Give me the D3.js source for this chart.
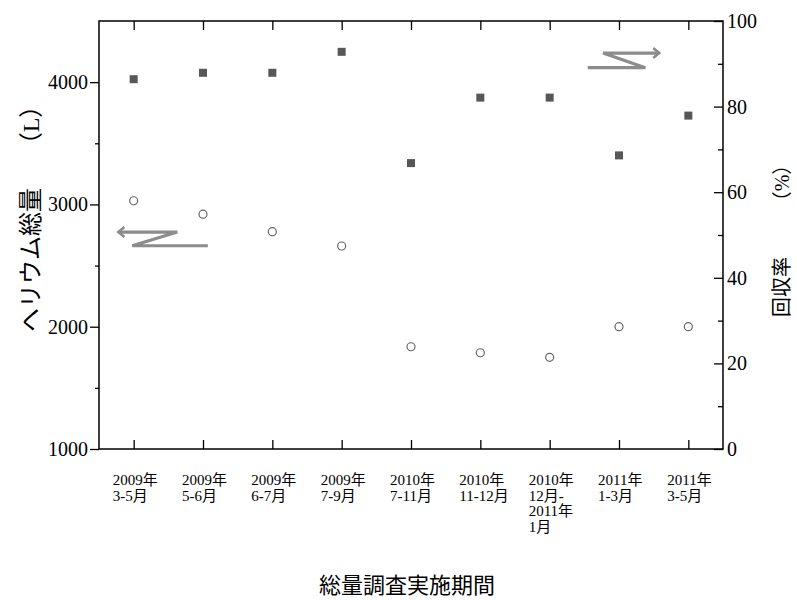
<!DOCTYPE html>
<html>
<head>
<meta charset="utf-8">
<script src="https://cdn.jsdelivr.net/npm/d3@7"></script>
<style>
  body { margin: 0; background: #fff; }
  svg text { font-family: "Liberation Serif", "Noto Sans CJK JP", serif; fill: #000; }
</style>
</head>
<body>
<svg id="chart" width="797" height="600"></svg>
<script>
// survey periods (multi-line tick labels)
var periods = [
    ['2009年', '3-5月'],
    ['2009年', '5-6月'],
    ['2009年', '6-7月'],
    ['2009年', '7-9月'],
    ['2010年', '7-11月'],
    ['2010年', '11-12月'],
    ['2010年', '12月-', '2011年', '1月'],
    ['2011年', '1-3月'],
    ['2011年', '3-5月']
];
// total helium (L), left axis, circles
var heliumTotal = [3030, 2920, 2777, 2660, 1836, 1787, 1750, 2000, 2000];
// recovery rate (%), right axis, squares
var recoveryRate = [86.4, 87.9, 87.9, 92.8, 66.8, 82.1, 82.1, 68.6, 77.9];

var leftTicks = [1000, 2000, 3000, 4000];
var rightTicks = [0, 20, 40, 60, 80, 100];

var margin = {top: 21, right: 74, bottom: 151, left: 99};
var svg = d3.select('#chart');
var W = +svg.attr('width') - margin.left - margin.right;
var H = +svg.attr('height') - margin.top - margin.bottom;
var g = svg.append('g').attr('transform', 'translate(' + margin.left + ',' + margin.top + ')');

var x = d3.scalePoint().domain(d3.range(periods.length)).range([0, W]).padding(0.5);
// fractional index -> px, used for the annotation arrows
var xi = d3.scaleLinear().domain([0, periods.length - 1]).range([x(0), x(periods.length - 1)]);
var yL = d3.scaleLinear().domain([1000, 4500]).range([H, 0]);
var yR = d3.scaleLinear().domain([0, 100]).range([H, 0]);

// left axis: outward ticks, minor every 500
g.append('g').call(d3.axisLeft(yL).tickValues(d3.range(1500, 4500, 1000)).tickSize(4).tickFormat(''));
g.append('g').call(d3.axisLeft(yL).tickValues(leftTicks).tickSize(9).tickPadding(2).tickFormat(d3.format('d')));
// right axis: inward ticks, minor every 10
g.append('g').attr('transform', 'translate(' + W + ',0)')
    .call(d3.axisRight(yR).tickValues(d3.range(10, 100, 20)).tickSize(-5).tickFormat(''));
g.append('g').attr('transform', 'translate(' + W + ',0)')
    .call(d3.axisRight(yR).tickValues(rightTicks).tickSize(-9).tickPadding(4).tickFormat(d3.format('d')));
// bottom and top: inward ticks at each period
g.append('g').attr('transform', 'translate(0,' + H + ')')
    .call(d3.axisBottom(x).tickSize(-9).tickFormat(''));
g.append('g').call(d3.axisTop(x).tickSize(-9).tickFormat(''));

g.selectAll('.domain').remove();
g.selectAll('.tick line').attr('stroke', '#000').attr('stroke-width', 1.3);
g.selectAll('.tick text').attr('font-size', 20).attr('font-family', '"Liberation Serif", serif');

g.append('rect').attr('width', W).attr('height', H)
    .attr('fill', 'none').attr('stroke', '#000').attr('stroke-width', 1.5);

// multi-line period labels
var lab = g.selectAll('text.period').data(periods).enter().append('text')
    .attr('class', 'period')
    .attr('font-size', 15)
    .attr('transform', function (d, i) { return 'translate(' + (x(i) - 21) + ',' + (H + 36) + ')'; });
lab.selectAll('tspan').data(function (d) { return d; }).enter().append('tspan')
    .attr('x', 0)
    .attr('y', function (d, i) { return i * 15.5; })
    .text(function (d) { return d; });

// data marks
g.selectAll('rect.rate').data(recoveryRate).enter().append('rect')
    .attr('class', 'rate')
    .attr('x', function (d, i) { return x(i) - 4; })
    .attr('y', function (d) { return yR(d) - 4; })
    .attr('width', 8).attr('height', 8)
    .attr('fill', '#575757');

g.selectAll('circle.helium').data(heliumTotal).enter().append('circle')
    .attr('class', 'helium')
    .attr('cx', function (d, i) { return x(i); })
    .attr('cy', function (d) { return yL(d); })
    .attr('r', 4)
    .attr('fill', '#fff').attr('stroke', '#666').attr('stroke-width', 1.2);

// Z-shaped arrows pointing to the axis each series belongs to
var arrowLine = d3.line();
function zArrow(pts, yScale, dir) {
    var p = pts.map(function (q) { return [xi(q[0]), yScale(q[1])]; });
    g.append('path').attr('d', arrowLine(p))
        .attr('fill', 'none').attr('stroke', '#8c8c8c').attr('stroke-width', 3.2)
        .attr('stroke-linejoin', 'miter');
    var tip = p[0];
    g.append('path').attr('d', arrowLine([[tip[0] - dir * 6, tip[1] - 5], tip, [tip[0] - dir * 6, tip[1] + 5]]))
        .attr('fill', 'none').attr('stroke', '#8c8c8c').attr('stroke-width', 2.6);
}
zArrow([[-0.22, 2774], [0.63, 2774], [-0.02, 2662], [1.07, 2662]], yL, -1);
zArrow([[7.58, 92.5], [6.77, 92.5], [7.38, 89.1], [6.55, 89.1]], yR, 1);

// axis titles
svg.append('text').attr('font-size', 24).attr('text-anchor', 'middle')
    .attr('transform', 'translate(39,260) rotate(-90)').text('ヘリウム総量');
svg.append('text').attr('font-size', 24).attr('text-anchor', 'middle')
    .attr('transform', 'translate(39,125) rotate(-90)').text('（L）');
svg.append('text').attr('font-size', 20).attr('text-anchor', 'middle')
    .attr('transform', 'translate(789,287) rotate(-90)').text('回収率');
svg.append('text').attr('font-size', 20).attr('text-anchor', 'middle')
    .attr('transform', 'translate(789,183) rotate(-90)').text('（%）');
svg.append('text').attr('font-size', 22).attr('text-anchor', 'middle')
    .attr('x', 407).attr('y', 593).text('総量調査実施期間');
</script>
</body>
</html>
